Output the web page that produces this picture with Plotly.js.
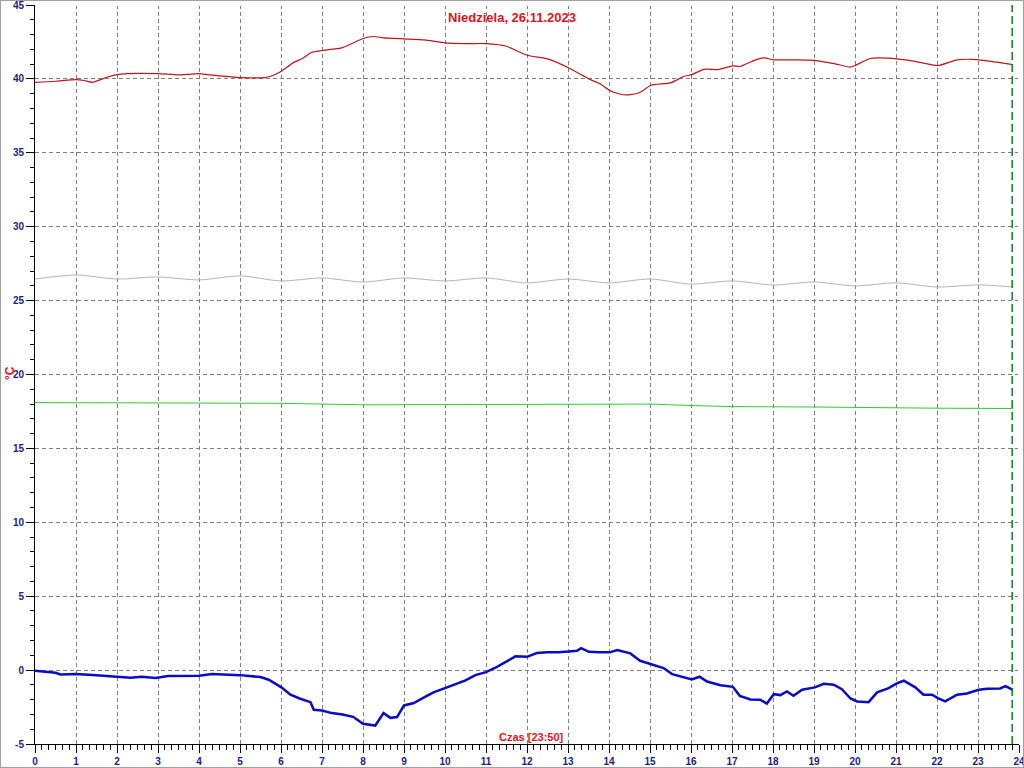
<!DOCTYPE html>
<html>
<head>
<meta charset="utf-8">
<script src="https://cdn.plot.ly/plotly-3.0.1.min.js"></script>
<style>
  html, body { margin: 0; padding: 0; background: #ffffff; }
  #chart { width: 1024px; height: 768px; }
  #frame { position: absolute; left: 0; top: 0; width: 1022px; height: 766px; border: 1px solid #a0a0a0; pointer-events: none; }
</style>
</head>
<body>
<div id="chart"></div>
<div id="frame"></div>
<script>
// ---- data (hours of the day, temperature in °C) ----
const titleText = "Niedziela, 26.11.2023";
const xLabelText = "Czas [23:50]";
const yLabelText = "°C";
const currentTime = 23 + 50 / 60;
const hourTicks = [0,1,2,3,4,5,6,7,8,9,10,11,12,13,14,15,16,17,18,19,20,21,22,23,24];
const tempTicks = [-5,0,5,10,15,20,25,30,35,40,45];

const redHours = [0,0.5,1,1.2,1.4,1.75,2,2.25,3,3.5,
  4,4.5,5,5.6,5.75,6,6.3,6.5,6.75,7,
  7.5,8,8.25,8.5,9,9.5,10,10.5,11,11.5,
  12,12.5,13.02,13.51,13.79,14.02,14.28,14.52,14.76,15.02,
  15.5,15.82,16.02,16.31,16.67,17.02,17.2,17.53,17.77,18.02,
  18.5,19.02,19.52,19.89,20.0,20.37,20.78,21.43,22.02,22.49,
  22.98,23.46,23.85];
const redTemps = [39.77,39.84,39.95,39.89,39.77,40.11,40.29,40.36,40.36,40.27,
  40.36,40.2,40.09,40.09,40.18,40.5,41.1,41.35,41.8,41.92,
  42.12,42.73,42.87,42.78,42.71,42.64,42.44,42.39,42.39,42.21,
  41.6,41.35,40.74,40.0,39.66,39.21,38.96,38.94,39.1,39.57,
  39.73,40.16,40.29,40.65,40.63,40.88,40.84,41.24,41.42,41.29,
  41.29,41.26,41.02,40.79,40.9,41.38,41.4,41.2,40.9,41.29,
  41.31,41.13,40.97];

const grayHours = [0,1,2,3,4,5,6,7,8,9,10,11,12,13,14,15,16,17,18,19,20,21,22,23,23.85];
const grayTemps = [26.46,26.73,26.46,26.6,26.4,26.67,26.33,26.53,26.26,26.53,26.33,26.53,26.2,26.46,26.2,26.46,26.12,26.33,26.06,26.26,25.99,26.2,25.92,26.06,25.92];

const greenHours = [0,3,6,8,10,12,14,15,16,17,19,21,22,23.85];
const greenTemps = [18.1,18.05,18.05,17.95,17.95,18.0,18.0,18.0,17.9,17.83,17.8,17.78,17.72,17.7];

const blueHours = [0,0.5,0.62,1,1.5,2,2.33,2.6,2.94,3.25,
  3.5,4,4.32,4.76,5,5.5,5.7,6,6.23,6.47,
  6.72,6.8,7,7.24,7.5,7.76,8,8.3,8.5,8.67,
  8.83,9,9.24,9.5,9.72,10,10.5,10.74,11,11.23,
  11.47,11.72,12,12.24,12.5,12.76,13.02,13.22,13.32,13.51,
  13.77,14.02,14.2,14.52,14.76,15.02,15.33,15.54,15.78,16.02,
  16.21,16.39,16.72,17.02,17.19,17.45,17.69,17.85,18.02,18.18,
  18.34,18.5,18.71,19.02,19.24,19.48,19.68,19.89,20.05,20.33,
  20.54,20.82,21.02,21.19,21.47,21.67,21.88,22.02,22.2,22.49,
  22.73,23.02,23.22,23.54,23.67,23.85];
const blueTemps = [-0.05,-0.18,-0.3,-0.27,-0.34,-0.45,-0.52,-0.45,-0.54,-0.4,
  -0.38,-0.38,-0.27,-0.29,-0.34,-0.47,-0.65,-1.15,-1.67,-1.94,
  -2.17,-2.69,-2.73,-2.91,-3.0,-3.16,-3.63,-3.75,-2.91,-3.23,
  -3.18,-2.39,-2.23,-1.83,-1.51,-1.22,-0.7,-0.34,-0.14,0.16,
  0.52,0.93,0.9,1.15,1.2,1.2,1.26,1.31,1.49,1.24,
  1.2,1.2,1.35,1.13,0.63,0.41,0.14,-0.27,-0.45,-0.63,
  -0.45,-0.77,-1.02,-1.13,-1.74,-1.99,-2.01,-2.26,-1.63,-1.69,
  -1.44,-1.74,-1.33,-1.17,-0.93,-0.99,-1.29,-1.92,-2.12,-2.17,
  -1.51,-1.22,-0.9,-0.72,-1.17,-1.67,-1.67,-1.9,-2.12,-1.67,
  -1.58,-1.33,-1.26,-1.24,-1.08,-1.33];

// ---- chart ----
const FONT = "Arial, 'Liberation Sans', sans-serif";
const RED_TEXT = "#e0141c";
const TICK_TEXT = "#1c1c84";
const xMax = hourTicks[hourTicks.length - 1];
const yMax = tempTicks[tempTicks.length - 1];

const traces = [
  {x: grayHours, y: grayTemps, mode: "lines", line: {color: "#b4b4b4", width: 1, shape: "spline", smoothing: 0.8}, hoverinfo: "skip"},
  {x: greenHours, y: greenTemps, mode: "lines", line: {color: "#2ecc2e", width: 1}, hoverinfo: "skip"},
  {x: redHours, y: redTemps, mode: "lines", line: {color: "#c0141e", width: 1.2, shape: "spline", smoothing: 0.5}, hoverinfo: "skip"},
  {x: blueHours, y: blueTemps, mode: "lines", line: {color: "#0a0ac8", width: 2.5}, hoverinfo: "skip"}
];

const layout = {
  width: 1024, height: 768,
  margin: {l: 35, r: 5, t: 5, b: 24, pad: 0},
  paper_bgcolor: "#ffffff", plot_bgcolor: "#ffffff",
  showlegend: false,
  font: {family: FONT},
  title: {
    text: "<b>" + titleText + "</b>",
    x: 0.5, xref: "container", xanchor: "center",
    y: 1 - 17 / 768, yref: "container", yanchor: "middle",
    font: {family: FONT, size: 13, color: RED_TEXT}
  },
  xaxis: {
    range: [0, xMax], fixedrange: true,
    tickmode: "array", tickvals: hourTicks, ticktext: hourTicks.map(h => "<b>" + h + "</b>"),
    ticks: "outside", ticklen: 8, tickwidth: 1, tickcolor: "#000",
    ticklabeloverflow: "allow",
    tickfont: {family: FONT, size: 10, color: TICK_TEXT},
    showline: true, linecolor: "#000", linewidth: 1,
    showgrid: true, gridcolor: "#808080", gridwidth: 1, griddash: "4px,3px",
    zeroline: false,
    minor: {dtick: 1 / 6, tick0: 0, ticks: "outside", ticklen: 5, tickwidth: 1, tickcolor: "#000", showgrid: false}
  },
  yaxis: {
    range: [-5, yMax], fixedrange: true,
    tickmode: "array", tickvals: tempTicks, ticktext: tempTicks.map(v => "<b>" + v + "</b>"),
    ticks: "outside", ticklen: 8, tickwidth: 1, tickcolor: "#000",
    ticklabeloverflow: "allow",
    tickfont: {family: FONT, size: 10, color: TICK_TEXT},
    showline: true, linecolor: "#000", linewidth: 1,
    showgrid: true, gridcolor: "#808080", gridwidth: 1, griddash: "4px,3px",
    zeroline: false,
    minor: {dtick: 1, tick0: 0, ticks: "outside", ticklen: 4, tickwidth: 1, tickcolor: "#000", showgrid: false}
  },
  shapes: [
    // hide the grid lines on the top and right edges (the original has none there)
    {type: "line", xref: "paper", yref: "y", x0: 0.002, x1: 1, y0: yMax, y1: yMax, layer: "above",
     line: {color: "#ffffff", width: 2}},
    {type: "line", xref: "x", yref: "paper", x0: xMax, x1: xMax, y0: 0.002, y1: 1, layer: "above",
     line: {color: "#ffffff", width: 2}},
    {type: "line", xref: "x", yref: "paper", x0: currentTime, x1: currentTime, y0: 0, y1: 1,
     line: {color: "#108010", width: 1.5, dash: "8px,4px"}}
  ],
  annotations: [
    {text: "<b>" + xLabelText + "</b>", xref: "paper", yref: "paper",
     x: (531 - 35) / 984, y: (744 - 737) / 739, xanchor: "center", yanchor: "middle",
     showarrow: false, font: {family: FONT, size: 11, color: RED_TEXT}},
    {text: "<b>" + yLabelText + "</b>", xref: "paper", yref: "paper",
     x: (10 - 35) / 984, y: (744 - 373) / 739, xanchor: "center", yanchor: "middle",
     textangle: -90, showarrow: false, font: {family: FONT, size: 12, color: RED_TEXT}}
  ]
};

Plotly.newPlot("chart", traces, layout, {displayModeBar: false, staticPlot: true});
</script>
</body>
</html>
